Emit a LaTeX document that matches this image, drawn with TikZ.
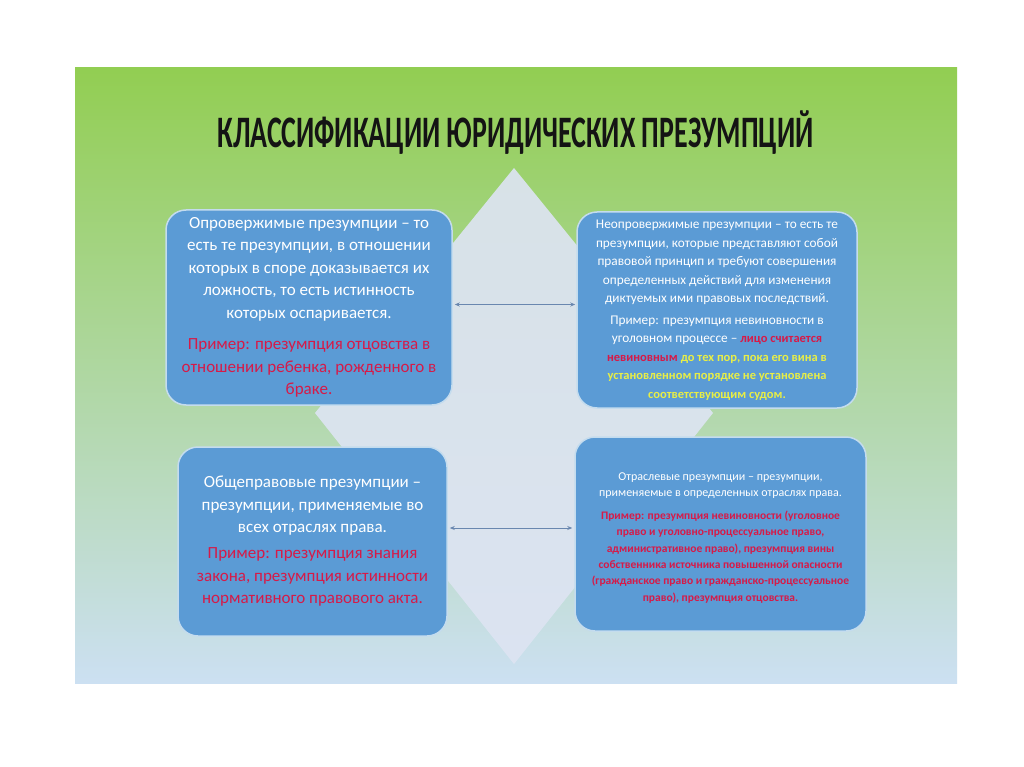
\documentclass[tikz,border=0pt]{standalone}
\usepackage{fontspec}
\setmainfont{Carlito}
\usetikzlibrary{arrows.meta,calc}
\definecolor{gTop}{RGB}{146,206,82}
\definecolor{gMid}{RGB}{176,214,168}
\definecolor{gBot}{RGB}{204,224,242}
\definecolor{diamfill}{RGB}{221,228,242}
\definecolor{boxfill}{RGB}{91,155,213}
\definecolor{boxline}{RGB}{196,220,238}
\definecolor{exred}{RGB}{214,26,72}
\definecolor{exyel}{RGB}{232,238,70}
\definecolor{arrcol}{RGB}{105,135,175}
\definecolor{titlecol}{RGB}{20,20,20}
\begin{document}
\begin{tikzpicture}[x=1pt,y=-1pt,
  box/.style={draw=boxline, line width=1.5pt, fill=boxfill, rounded corners=20pt,
    text=white, align=center, inner sep=0pt},
  boxtext/.style={text=white, align=center, inner sep=0pt},
  bigtext/.style={font=\fontsize{17}{22.5}\selectfont},
  smalltext/.style={font=\fontsize{13.3}{18.5}\selectfont},
  tinytext/.style={font=\fontsize{12}{16.4}\selectfont},
  arr/.style={arrcol, line width=0.9pt, {Stealth[length=5pt,width=4pt]}-{Stealth[length=5pt,width=4pt]}}
]
\newcommand{\smb}[1]{{\fontsize{12.5}{18.5}\selectfont\bfseries #1}}
\newcommand{\tnb}[1]{{\fontsize{11.5}{16.4}\selectfont\bfseries #1}}
\useasboundingbox (0,0) rectangle (1024,767);
\fill[white] (0,0) rectangle (1024,767);
\shade[top color=gTop, middle color=gMid, bottom color=gBot] (75,68) rectangle (957,683);
\fill[diamfill, opacity=0.92] (514,168) -- (713,413) -- (514,664) -- (315,413) -- cycle;

\node[text=titlecol, anchor=base, font=\fontsize{45}{50}\selectfont\bfseries] (title) at (515.5,147.5)
  {\scalebox{0.621}[1]{КЛАССИФИКАЦИИ ЮРИДИЧЕСКИХ ПРЕЗУМПЦИЙ}};

\node[box, bigtext, minimum width=286pt, minimum height=195pt] (b1) at (309,307.5)
  {Опровержимые презумпции – то\\
   есть те презумпции, в отношении\\
   которых в споре доказывается их\\
   ложность, то есть истинность\\
   которых оспаривается.\\[9pt]
   \textcolor{exred}{Пример: презумпция отцовства в}\\
   \textcolor{exred}{отношении ребенка, рожденного в}\\
   \textcolor{exred}{браке.}};

\node[box, smalltext, minimum width=280pt, minimum height=196pt] (b2) at (717,310)
  {Неопровержимые презумпции – то есть те\\
   презумпции, которые представляют собой\\
   правовой принцип и требуют совершения\\
   определенных действий для изменения\\
   диктуемых ими правовых последствий.\\[3pt]
   Пример: презумпция невиновности в\\
   уголовном процессе – \textcolor{exred}{\smb{лицо считается}}\\
   \textcolor{exred}{\smb{невиновным}} \textcolor{exyel}{\smb{до тех пор, пока его вина в}}\\
   \textcolor{exyel}{\smb{установленном порядке не установлена}}\\
   \textcolor{exyel}{\smb{соответствующим судом.}}};

\node[box, bigtext, minimum width=269pt, minimum height=189pt] (b3) at (312.5,541.5)
  {Общеправовые презумпции –\\
   презумпции, применяемые во\\
   всех отраслях права.\\[3.5pt]
   \textcolor{exred}{Пример: презумпция знания}\\
   \textcolor{exred}{закона, презумпция истинности}\\
   \textcolor{exred}{нормативного правового акта.}};

\node[box, minimum width=291pt, minimum height=194pt] (b4) at (720.5,534) {};
\node[boxtext, tinytext] (t4) at ($(b4.center)+(0,4)$)
  {Отраслевые презумпции – презумпции,\\
   применяемые в определенных отраслях права.\\[6pt]
   \textcolor{exred}{\tnb{Пример: презумпция невиновности (уголовное}}\\
   \textcolor{exred}{\tnb{право и уголовно-процессуальное право,}}\\
   \textcolor{exred}{\tnb{административное право), презумпция вины}}\\
   \textcolor{exred}{\tnb{собственника источника повышенной опасности}}\\
   \textcolor{exred}{\tnb{(гражданское право и гражданско-процессуальное}}\\
   \textcolor{exred}{\tnb{право), презумпция отцовства.}}};

\draw[arr] ($(b1.east)+(2,-3)$) -- ($(b1.east -| b2.west)+(-1,-3)$);
\draw[arr] ($(b3.east)+(2,-13.5)$) -- ($(b3.east -| b4.west)+(-2,-13.5)$);
\end{tikzpicture}
\end{document}
